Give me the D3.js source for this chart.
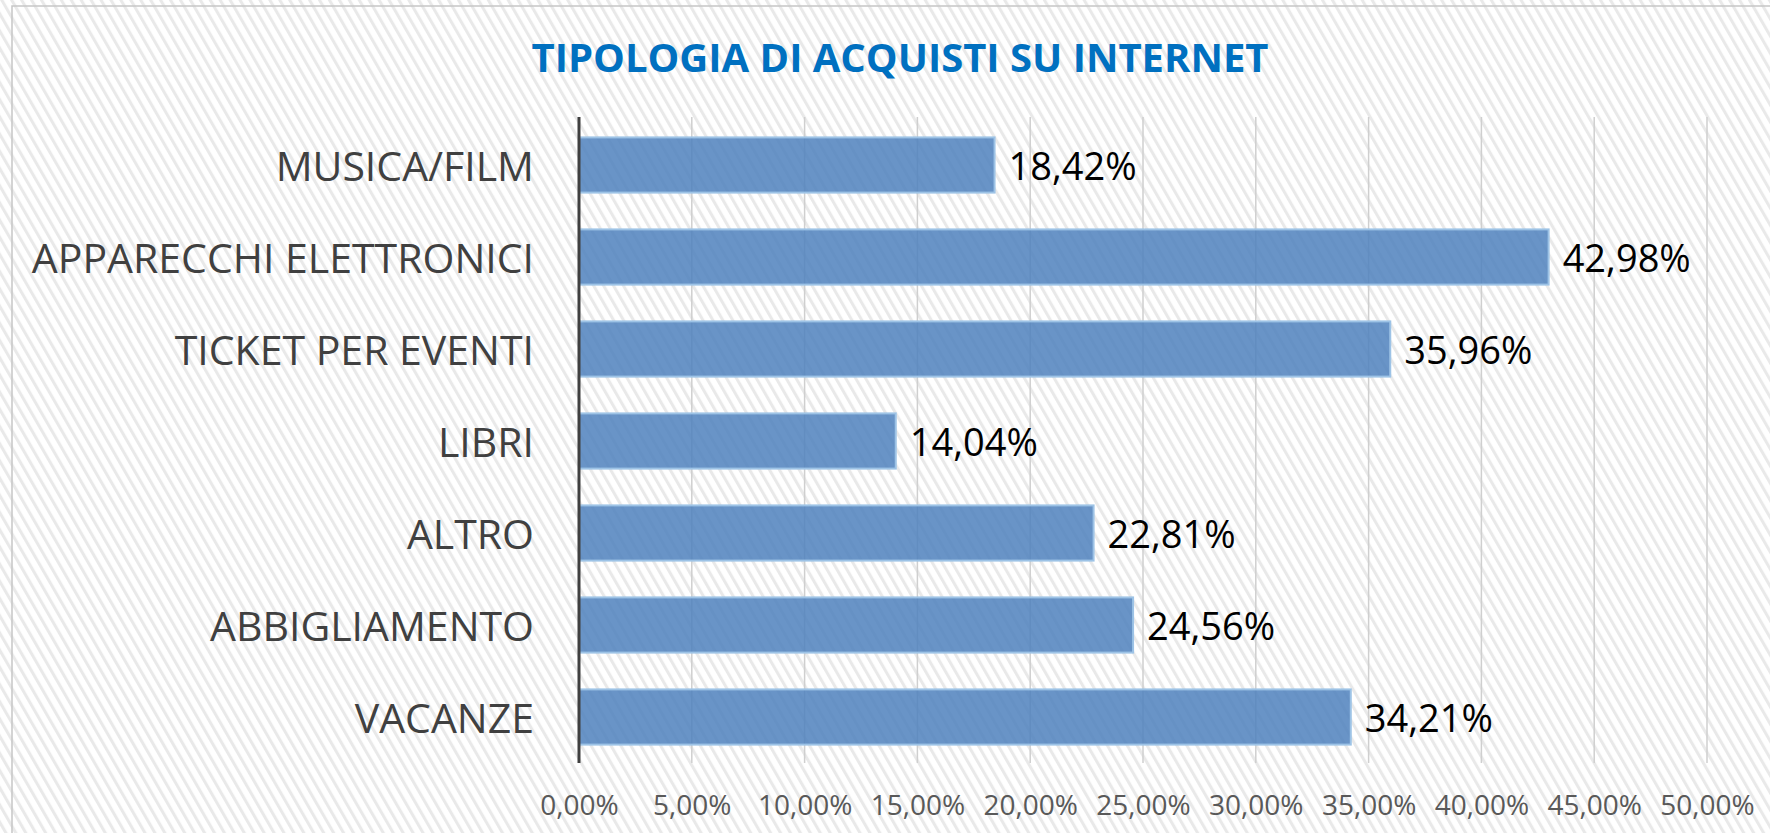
<!DOCTYPE html>
<html>
<head>
<meta charset="utf-8">
<script src="https://cdn.jsdelivr.net/npm/d3@7/dist/d3.min.js"></script>
<style>
  body { margin: 0; background: #fff; }
  svg { display: block; }
  text { font-family: "Open Sans", "Noto Sans", sans-serif; }
</style>
</head>
<body>
<div id="chart"></div>
<script>
const width = 1770
const height = 833
const margin = { top: 119, bottom: 70, left: 579, right: 63 }

const title = "TIPOLOGIA DI ACQUISTI SU INTERNET"
const categories = ["MUSICA/FILM", "APPARECCHI ELETTRONICI", "TICKET PER EVENTI", "LIBRI", "ALTRO", "ABBIGLIAMENTO", "VACANZE"]
const values = [18.42, 42.98, 35.96, 14.04, 22.81, 24.56, 34.21]
const ticks = [0, 5, 10, 15, 20, 25, 30, 35, 40, 45, 50]

const fmt = v => v.toFixed(2).replace(".", ",") + "%"

const svg = d3.select("div#chart").append("svg").attr("width", width).attr("height", height)

// striped background
const defs = svg.append("defs")
const pat = defs.append("pattern").attr("id", "stripes")
    .attr("width", 8.6).attr("height", 20).attr("patternUnits", "userSpaceOnUse")
    .attr("patternTransform", "rotate(-30)")
pat.append("rect").attr("width", 8.6).attr("height", 20).attr("fill", "#ffffff")
pat.append("rect").attr("x", 0).attr("width", 3).attr("height", 20).attr("fill", "#e9e9e9")

svg.append("rect").attr("width", width).attr("height", height).attr("fill", "url(#stripes)")
svg.append("rect").attr("x", 12).attr("y", 6).attr("width", width + 20).attr("height", height + 20)
    .attr("fill", "none").attr("stroke", "#c6c6c6").attr("stroke-width", 1.5)

const x = d3.scaleLinear().domain([0, 50]).range([margin.left, width - margin.right])
const y = d3.scaleBand().domain(categories).range([margin.top, height - margin.bottom])
    .paddingInner(0.4).paddingOuter(0.2)

svg.append("text").text(title)
    .attr("x", 900).attr("y", 72)
    .attr("text-anchor", "middle")
    .attr("font-size", 40).attr("font-weight", "bold")
    .attr("fill", "#0070c0")

// gridlines
svg.append("g").selectAll("line").data(ticks.slice(1)).enter().append("line")
    .attr("x1", d => x(d)).attr("x2", d => x(d))
    .attr("y1", margin.top - 2).attr("y2", height - margin.bottom)
    .attr("stroke", "#cfcfcf").attr("stroke-width", 1.5)

// x axis labels
const xAxis = d3.axisBottom(x).tickValues(ticks).tickFormat(fmt).tickSize(0)
const xAxisGroup = svg.append("g").attr("transform", `translate(0, ${height - margin.bottom})`).call(xAxis)
xAxisGroup.select(".domain").remove()
xAxisGroup.selectAll("text")
    .attr("font-size", 28).attr("fill", "#595959")
    .attr("font-family", "'Open Sans', sans-serif")
    .attr("dy", null).attr("y", 41).attr("dominant-baseline", "central")

// bars
svg.append("g").selectAll("rect").data(values).enter().append("rect")
    .attr("x", x(0))
    .attr("y", (d, i) => y(categories[i]))
    .attr("width", d => x(d) - x(0))
    .attr("height", y.bandwidth())
    .attr("fill", "#4f81bd").attr("fill-opacity", 0.85)
    .attr("stroke", "#9dc3e6").attr("stroke-width", 2)

// value labels
svg.append("g").selectAll("text").data(values).enter().append("text")
    .text(d => fmt(d))
    .attr("x", d => x(d) + 14)
    .attr("y", (d, i) => y(categories[i]) + y.bandwidth() / 2)
    .attr("dominant-baseline", "central")
    .attr("font-size", 38).attr("fill", "#000")

// y axis
const yAxis = d3.axisLeft(y).tickSize(0).tickPadding(45)
const yAxisGroup = svg.append("g").attr("transform", `translate(${margin.left}, 0)`).call(yAxis)
yAxisGroup.select(".domain").attr("stroke", "#404040").attr("stroke-width", 3)
    .attr("d", `M0,${margin.top - 2}V${height - margin.bottom}`)
yAxisGroup.selectAll("text")
    .attr("font-size", 41).attr("fill", "#404040")
    .attr("font-family", "'Open Sans', sans-serif")
    .attr("dy", null).attr("dominant-baseline", "central")
</script>
</body>
</html>
